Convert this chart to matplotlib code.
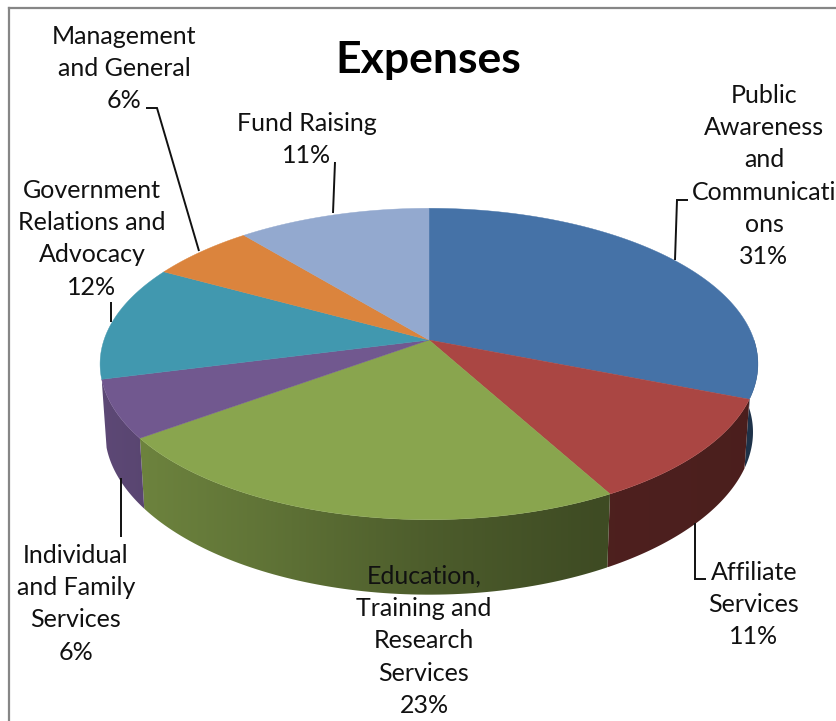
import numpy as np
import matplotlib
matplotlib.use("Agg")
import matplotlib.pyplot as plt
from matplotlib.colors import to_rgb
from matplotlib.patches import Polygon

plt.rcParams['font.family'] = ['Lato', 'DejaVu Sans']

title = 'Expenses'
categories = ['Public\nAwareness\nand\nCommunicati\nons', 'Affiliate\nServices',
              'Education,\nTraining and\nResearch\nServices', 'Individual\nand Family\nServices',
              'Government\nRelations and\nAdvocacy', 'Management\nand General', 'Fund Raising']
shares = [31, 11, 23, 6, 12, 6, 11]
colors = ['#4572a7', '#aa4643', '#89a54e', '#71588f', '#4198af', '#db843d', '#93a9cf']

# where the labels sit, centre x and top y of the text block
label_pos = [(764, 84), (754, 561), (424, 565), (76, 544), (92, 179), (124, 25), (307, 112)]
leaders = [[(675, 260), (677, 200), (688, 200)],
           [(695, 523), (695, 579), (706, 579)],
           [(121, 478), (121, 537)],
           [(111, 302), (111, 322)],
           [(146, 108), (157, 108), (199, 251)],
           [(333, 213), (335, 162)]]

# pie geometry in pixels
cx, cy = 429, 340
rx, ry = 325, 152
persp = 0.154


def top_face(theta):
    u, v = np.sin(theta), np.cos(theta)
    s = 1 / (1 + persp * v)
    return cx + rx * u * s, cy - ry * v * s


def bottom_face(theta):
    x, y = top_face(theta)
    v = np.cos(theta)
    depth = 68 + 7 * np.minimum(v, 0) ** 2
    return cx + (x - cx) * 0.985, y + depth


def wall_shade(u):
    return np.interp(u, [-1, -0.5, 0, 0.5, 1], [0.82, 0.7, 0.56, 0.46, 0.44])


fig = plt.figure(figsize=(8.36, 7.21), dpi=100)
ax = fig.add_axes([0, 0, 1, 1])
ax.axis('off')

edges = np.radians(np.cumsum([0] + shares) * 3.6)

# side walls, the teal one is hidden behind the rim so stop at its start
for i in range(len(shares)):
    a0, a1 = max(edges[i], np.pi / 2), min(edges[i + 1], edges[4])
    if a1 <= a0:
        continue
    ts = np.linspace(a0, a1, 80)
    tx, ty = top_face(ts)
    bx, by = bottom_face(ts)
    xs = np.r_[tx, bx[::-1]]
    ys = np.r_[ty, by[::-1]]
    poly = Polygon(np.c_[xs, ys], closed=True, transform=ax.transData, fc='none', ec='none')
    ax.add_patch(poly)
    gx = np.linspace(xs.min(), xs.max(), 200)
    grad = np.outer(wall_shade((gx - cx) / rx), to_rgb(colors[i]))[None, :, :]
    im = ax.imshow(grad, extent=[xs.min(), xs.max(), ys.max(), ys.min()], aspect='auto',
                   interpolation='bilinear', zorder=2)
    im.set_clip_path(poly)

# top face
for i in range(len(shares)):
    ts = np.linspace(edges[i], edges[i + 1], 120)
    xs, ys = top_face(ts)
    ax.fill(np.r_[cx, xs], np.r_[cy, ys], color=colors[i], lw=0.3, zorder=3)

for pts in leaders:
    ax.plot([p[0] for p in pts], [p[1] for p in pts], color='#111111', lw=1.4, zorder=4,
            solid_joinstyle='miter', solid_capstyle='butt')

for name, share, (lx, ly) in zip(categories, shares, label_pos):
    ax.text(lx, ly, name + '\n' + str(share) + '%', ha='center', va='top', fontsize=18,
            linespacing=1.484, color='#111111', zorder=5, clip_on=True)

ax.text(428, 60, title, ha='center', va='center', fontsize=32, fontweight='bold', color='black', zorder=5)

# chart frame
ax.plot([9, 9], [721, 8], color='#868686', lw=1.6, zorder=6)
ax.plot([9, 836], [8, 8], color='#868686', lw=1.6, zorder=6)

ax.set_xlim(0, 836)
ax.set_ylim(721, 0)

fig.savefig('out.png', dpi=100)
